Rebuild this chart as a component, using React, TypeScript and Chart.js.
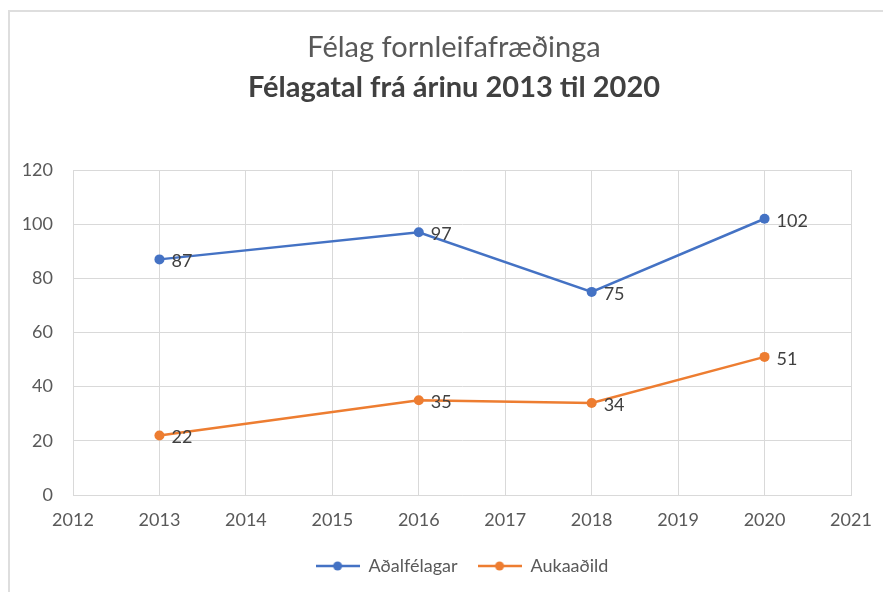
import React, { useEffect, useRef } from "react";
import { Chart, registerables } from "chart.js";

Chart.register(...registerables);

const years = [2013, 2016, 2018, 2020];
const adalfelagar = [87, 97, 75, 102];
const aukaadild = [22, 35, 34, 51];
const xTicks = [2012, 2013, 2014, 2015, 2016, 2017, 2018, 2019, 2020, 2021];
const yTicks = [0, 20, 40, 60, 80, 100, 120];
const seriesNames = ["Aðalfélagar", "Aukaaðild"];
const seriesColors = ["#4472C4", "#ED7D31"];
const titleText = "Félag fornleifafræðinga";
const subtitleText = "Félagatal frá árinu 2013 til 2020";

function makeLegendMarker(color: string): HTMLCanvasElement {
  const c = document.createElement("canvas");
  c.width = 44;
  c.height = 12;
  const g = c.getContext("2d")!;
  g.strokeStyle = color;
  g.lineWidth = 2.5;
  g.beginPath();
  g.moveTo(0, 6);
  g.lineTo(44, 6);
  g.stroke();
  g.fillStyle = color;
  g.beginPath();
  g.arc(22, 6, 4.5, 0, Math.PI * 2);
  g.fill();
  return c;
}

const dataLabelPlugin = {
  id: "dataLabels",
  afterDatasetsDraw(chart: any) {
    const ctx = chart.ctx;
    ctx.save();
    ctx.font = "18px Lato";
    ctx.fillStyle = "#404040";
    ctx.textAlign = "left";
    ctx.textBaseline = "middle";
    chart.data.datasets.forEach((ds: any, i: number) => {
      const meta = chart.getDatasetMeta(i);
      meta.data.forEach((el: any, j: number) => {
        const v = ds.data[j].y;
        ctx.fillText(String(v), el.x + 12, el.y + 2);
      });
    });
    ctx.restore();
  },
};

// Shift the title blocks so they are centred like the reference.
const titleShiftPlugin = {
  id: "titleShift",
  afterLayout(chart: any) {
    chart.boxes.forEach((b: any) => {
      if (b.position === "top" && b.options && "text" in b.options) {
        b.left = b.left + 57;
      }
    });
  },
};

export default function App() {
  const ref = useRef<HTMLCanvasElement | null>(null);

  useEffect(() => {
    if (!ref.current) return;
    Chart.defaults.font.family = "Lato";
    const markers = seriesColors.map(makeLegendMarker);
    const series = [adalfelagar, aukaadild];
    const chart = new Chart(ref.current, {
      type: "line",
      data: {
        datasets: series.map((vals, i) => ({
          label: seriesNames[i],
          data: years.map((y, j) => ({ x: y, y: vals[j] })),
          borderColor: seriesColors[i],
          backgroundColor: seriesColors[i],
          borderWidth: 2.5,
          pointRadius: 5,
          pointBorderWidth: 0,
          pointBackgroundColor: seriesColors[i],
          tension: 0,
        })),
      },
      options: {
        responsive: false,
        animation: false,
        layout: { padding: { left: 0, right: 32, top: 0, bottom: 7 } },
        plugins: {
          tooltip: { enabled: false },
          title: {
            display: true,
            text: titleText,
            color: "#595959",
            font: { size: 29, weight: "normal" },
            padding: { top: 30.6, bottom: 0 },
          },
          subtitle: {
            display: true,
            text: subtitleText,
            color: "#404040",
            font: { size: 29, weight: "bold" },
            padding: { top: 4.8, bottom: 65 },
          },
          legend: {
            position: "bottom",
            fullSize: false,
            labels: {
              usePointStyle: true,
              pointStyleWidth: 44,
              padding: 20,
              color: "#595959",
              font: { size: 18 },
              generateLabels: () =>
                seriesNames.map((n, i) => ({
                  text: n,
                  pointStyle: markers[i] as any,
                  fillStyle: seriesColors[i],
                  strokeStyle: seriesColors[i],
                  lineWidth: 0,
                  hidden: false,
                  datasetIndex: i,
                  fontColor: "#595959",
                })),
            },
          },
        },
        scales: {
          x: {
            type: "linear",
            min: xTicks[0],
            max: xTicks[xTicks.length - 1],
            afterBuildTicks: (s: any) => {
              s.ticks = xTicks.map((v) => ({ value: v }));
            },
            afterFit: (s: any) => {
              s.height = 42;
              s.paddingLeft = 0;
              s.paddingRight = 0;
            },
            ticks: {
              callback: (v: any) => String(v),
              color: "#595959",
              font: { size: 18 },
              padding: 14,
              maxRotation: 0,
              autoSkip: false,
            },
            grid: { color: "#d9d9d9", drawTicks: false },
            border: { color: "#d9d9d9" },
          },
          y: {
            min: yTicks[0],
            max: yTicks[yTicks.length - 1],
            afterBuildTicks: (s: any) => {
              s.ticks = yTicks.map((v) => ({ value: v }));
            },
            afterFit: (s: any) => {
              s.width = 73;
            },
            ticks: {
              color: "#595959",
              font: { size: 18 },
              padding: 20,
            },
            grid: { color: "#d9d9d9", drawTicks: false },
            border: { color: "#d9d9d9" },
          },
        },
      },
      plugins: [dataLabelPlugin, titleShiftPlugin],
    });
    return () => chart.destroy();
  }, []);

  return (
    <div>
      <div
        style={{
          position: "fixed",
          left: 8,
          top: 10,
          width: 875,
          height: 582,
          boxSizing: "border-box",
          borderTop: "2px solid #dedede",
          borderLeft: "2px solid #dedede",
        }}
      />
      <canvas
        ref={ref}
        width={883}
        height={592}
        style={{ position: "fixed", left: 0, top: 0, width: 883, height: 592, display: "block" }}
      />
    </div>
  );
}
